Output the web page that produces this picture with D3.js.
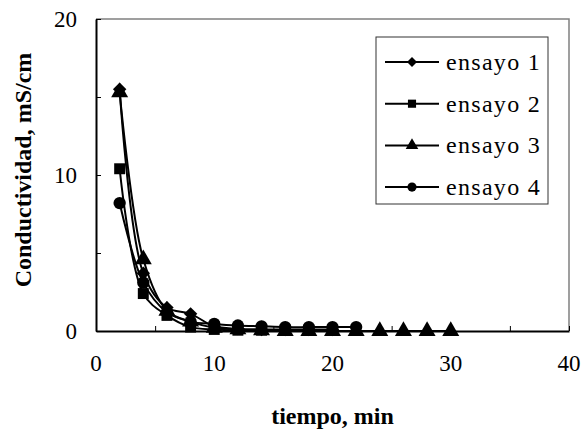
<!DOCTYPE html>
<html>
<head>
<meta charset="utf-8">
<script src="https://cdn.jsdelivr.net/npm/d3@7"></script>
<style>
  body { margin: 0; background: #fff; }
  svg { display: block; }
</style>
</head>
<body>
<div id="chart"></div>
<script>
// data
var tiempo = [2, 4, 6, 8, 10, 12, 14, 16, 18, 20, 22, 24, 26, 28, 30];
var ensayo1 = [15.5, 3.7, 1.5, 1.1, 0.3, 0.15, 0.1, 0.1, 0.1, 0.1];
var ensayo2 = [10.4, 2.4, 1.0, 0.25, 0.1, 0.05, 0.05, 0.05, 0.05, 0.05];
var ensayo3 = [15.3, 4.6, 1.3, 0.6, 0.2, 0.1, 0.05, 0, 0, 0, 0, 0, 0, 0, 0];
var ensayo4 = [8.2, 3.1, 1.2, 0.6, 0.45, 0.35, 0.3, 0.25, 0.25, 0.25, 0.25];
var seriesNames = ["ensayo 1", "ensayo 2", "ensayo 3", "ensayo 4"];
var xTicks = [0, 10, 20, 30, 40];
var yTicks = [0, 10, 20];

var serif = "'Liberation Serif', 'Times New Roman', 'DejaVu Serif', serif";
var width = 584, height = 432;
var margin = {top: 19, right: 15, bottom: 101, left: 96};
var w = width - margin.left - margin.right;
var h = height - margin.top - margin.bottom;

var svg = d3.select("#chart").append("svg")
    .attr("width", width)
    .attr("height", height)
    .attr("font-family", serif);

var g = svg.append("g")
    .attr("transform", "translate(" + margin.left + "," + margin.top + ")");

var x = d3.scaleLinear().domain([0, 40]).range([0, w]);
var y = d3.scaleLinear().domain([0, 20]).range([h, 0]);

// plot area border (grey top / right)
g.append("path")
    .attr("d", "M0,0H" + w + "V" + h)
    .attr("fill", "none")
    .attr("stroke", "#808080")
    .attr("stroke-width", 1.5);

// axes, ticks pointing inward
var xAxis = g.append("g")
    .attr("transform", "translate(0," + h + ")")
    .call(d3.axisBottom(x).tickValues(d3.range(0, 41, 5)).tickSizeInner(-5).tickSizeOuter(0).tickFormat(""));
var yAxis = g.append("g")
    .call(d3.axisLeft(y).tickValues(d3.range(0, 21, 5)).tickSizeInner(-5).tickSizeOuter(0).tickFormat(""));
[xAxis, yAxis].forEach(function(a) {
    a.select(".domain").attr("stroke", "#000").attr("stroke-width", 2);
    a.selectAll(".tick line").attr("stroke", "#000").attr("stroke-width", 1);
});

g.selectAll(".xlab").data(xTicks).enter().append("text")
    .attr("class", "xlab")
    .attr("x", d => x(d))
    .attr("y", h + 40)
    .attr("text-anchor", "middle")
    .attr("font-family", serif)
    .attr("font-size", 23)
    .text(d => d);

g.selectAll(".ylab").data(yTicks).enter().append("text")
    .attr("class", "ylab")
    .attr("x", -19)
    .attr("y", d => y(d) + 8)
    .attr("text-anchor", "end")
    .attr("font-family", serif)
    .attr("font-size", 23)
    .text(d => d);

// axis titles
svg.append("text")
    .attr("x", margin.left + w / 2)
    .attr("y", 424)
    .attr("text-anchor", "middle")
    .attr("font-family", serif)
    .attr("font-size", 24)
    .attr("font-weight", "bold")
    .text("tiempo, min");

svg.append("text")
    .attr("transform", "translate(31,170) rotate(-90)")
    .attr("text-anchor", "middle")
    .attr("font-family", serif)
    .attr("font-size", 24)
    .attr("font-weight", "bold")
    .text("Conductividad, mS/cm");

// series
var allSeries = [ensayo1, ensayo2, ensayo3, ensayo4].map(function(vals, i) {
    return {
        name: seriesNames[i],
        values: vals.map((v, j) => ({t: tiempo[j], v: v}))
    };
});
// diamond = square turned 45 degrees
var symbols = [d3.symbolSquare, d3.symbolSquare, d3.symbolTriangle, d3.symbolCircle];
var rotations = [45, 0, 0, 0];
var symSizes = [90, 120, 125, 120];

var line = d3.line()
    .x(d => x(d.t))
    .y(d => y(d.v))
    .curve(d3.curveCatmullRom.alpha(0.5));

allSeries.forEach(function(s, i) {
    g.append("path")
        .datum(s.values)
        .attr("fill", "none")
        .attr("stroke", "#000")
        .attr("stroke-width", 2)
        .attr("d", line);
});

allSeries.forEach(function(s, i) {
    g.selectAll(".mk" + i).data(s.values).enter().append("path")
        .attr("class", "mk" + i)
        .attr("transform", d => "translate(" + x(d.t) + "," + y(d.v) + ") rotate(" + rotations[i] + ")")
        .attr("d", d3.symbol().type(symbols[i]).size(symSizes[i]))
        .attr("fill", "#000");
});

// legend
var legend = svg.append("g");
legend.append("rect")
    .attr("x", 376).attr("y", 37)
    .attr("width", 172).attr("height", 167)
    .attr("fill", "#fff")
    .attr("stroke", "#333")
    .attr("stroke-width", 1);

seriesNames.forEach(function(name, i) {
    var ly = 62 + i * 41.7;
    legend.append("line")
        .attr("x1", 385).attr("x2", 439)
        .attr("y1", ly).attr("y2", ly)
        .attr("stroke", "#000")
        .attr("stroke-width", 2);
    legend.append("path")
        .attr("transform", "translate(412," + ly + ") rotate(" + rotations[i] + ")")
        .attr("d", d3.symbol().type(symbols[i]).size(symSizes[i] * 0.55))
        .attr("fill", "#000");
    legend.append("text")
        .attr("x", 446)
        .attr("y", ly + 8)
        .attr("font-family", serif)
        .attr("font-size", 24)
        .attr("letter-spacing", 1.3)
        .text(name);
});
</script>
</body>
</html>
